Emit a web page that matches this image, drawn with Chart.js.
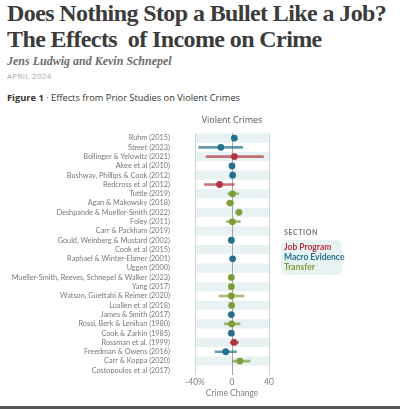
<!DOCTYPE html>
<html>
<head>
<meta charset="utf-8">
<script src="https://cdn.jsdelivr.net/npm/chart.js@4.4.1/dist/chart.umd.min.js"></script>
<style>
  body { margin: 0; background: #fff; width: 400px; height: 409px; overflow: hidden; position: relative; font-family: "Open Sans", sans-serif; }
  .t { position: absolute; left: 7px; white-space: nowrap; }
  #title { top: 0; font: bold 24px/26px "Liberation Serif", serif; color: #3b3b3b; letter-spacing: -0.6px; }
  #authors { top: 54px; font: italic bold 12px/14px "Liberation Serif", serif; color: #6d6d6d; }
  #date { top: 71px; font: 8px/10px "Open Sans", sans-serif; color: #a8a8a8; letter-spacing: 0.3px; }
  #fig { top: 92px; font: 9.3px/12px "Open Sans", sans-serif; color: #333; }
  #fig b { font-weight: 700; }
  #ctitle { position: absolute; left: 182px; width: 100px; top: 114px; text-align: center; font: 9px/12px "Open Sans", sans-serif; color: #555; }
  #wrap { position: absolute; left: 0; top: 112px; width: 400px; height: 293px; }
  #legend { position: absolute; left: 281px; top: 227px; }
  #legend .hd { font: bold 7px/10px Lato, sans-serif; color: #777; letter-spacing: 0.6px; margin-left: 3px; }
  #legend .box { margin-top: 3px; background: #e9f2f2; border-radius: 6px; padding: 2px 2px 3px 3px; width: 56px; }
  #legend .it { font: bold 8.5px/10px Lato, sans-serif; white-space: nowrap; }
  #bar { position: absolute; left: 0; top: 406px; width: 400px; height: 3px; background: #555; }
</style>
</head>
<body>
<div class="t" id="title">Does Nothing Stop a Bullet Like a Job?<br>The Effects&nbsp; of Income on Crime</div>
<div class="t" id="authors">Jens Ludwig and Kevin Schnepel</div>
<div class="t" id="date">APRIL 2024</div>
<div class="t" id="fig"><b>Figure 1</b> · Effects from Prior Studies on Violent Crimes</div>
<div id="wrap"><canvas id="myChart"></canvas></div>
<div id="ctitle">Violent Crimes</div>
<div id="legend">
  <div class="hd">SECTION</div>
  <div class="box">
    <div class="it" style="color:#b3343f">Job Program</div>
    <div class="it" style="color:#25708c">Macro Evidence</div>
    <div class="it" style="color:#7d9c3a">Transfer</div>
  </div>
</div>
<div id="bar"></div>
<script>
// Data (percent change in violent crime)
const studies = [
  "Ruhm (2015)", "Street (2023)", "Bollinger & Yelowitz (2021)", "Akee et al (2010)",
  "Bushway, Phillips & Cook (2012)", "Redcross et al (2012)", "Tuttle (2019)",
  "Agan & Makowsky (2018)", "Deshpande & Mueller-Smith (2022)", "Foley (2011)",
  "Carr & Packham (2019)", "Gould, Weinberg & Mustard (2002)", "Cook et al (2015)",
  "Raphael & Winter-Ebmer (2001)", "Uggen (2000)", "Mueller-Smith, Reeves, Schnepel & Walker (2023)",
  "Yang (2017)", "Watson, Guettabi & Reimer (2020)", "Luallen et al (2018)", "James & Smith (2017)",
  "Rossi, Berk & Lenihan (1980)", "Cook & Zarkin (1985)", "Rossman et al. (1999)",
  "Freedman & Owens (2016)", "Carr & Koppa (2020)", "Costopoulos et al (2017)"
];
const sections = [
  "Macro Evidence", "Macro Evidence", "Job Program", "Macro Evidence",
  "Macro Evidence", "Job Program", "Transfer",
  "Transfer", "Transfer", "Transfer",
  "Transfer", "Macro Evidence", "Job Program",
  "Macro Evidence", "Job Program", "Transfer",
  "Transfer", "Transfer", "Transfer", "Macro Evidence",
  "Transfer", "Macro Evidence", "Job Program",
  "Macro Evidence", "Transfer", "Job Program"
];
const estimates = [2.5, -12, 2.5, 0, 0.7, -13.5, 0.5, -2, 7.5, 0.4, null, -0.7, null, 0.7, null, -0.7, -0.7, -0.7, -0.4, -0.7, -0.4, -0.7, 2.2, -6.8, 8.6, null];
const ciLow   = [null, -36, -28, null, null, -30, -4.5, -6, null, -6, null, null, null, null, null, null, null, -14, null, null, -8.3, null, -2, -18.4, 0, null];
const ciHigh  = [null, 11.5, 34, null, null, 2.5, 7, 2, null, 9, null, null, null, null, null, null, null, 13, null, null, 8.6, null, 7, 5, 19.5, null];
const xTicks = [-40, 0, 40];
const xTickText = ["-40%", "0", "40"];

const sectionNames = ["Job Program", "Macro Evidence", "Transfer"];
const dotColors = ["#b3343f", "#25708c", "#7d9c3a"];
const lineColors = ["rgba(179,52,63,0.7)", "rgba(37,112,140,0.7)", "rgba(125,156,58,0.7)"];

let datasets = [];
sectionNames.forEach((name, k) => {
  datasets.push({
    type: 'bar',
    label: name + ' CI',
    data: studies.map((s, i) => (sections[i] === name && ciLow[i] !== null) ? [ciLow[i], ciHigh[i]] : null),
    backgroundColor: lineColors[k],
    barThickness: 2,
    grouped: false,
    order: 2
  });
  datasets.push({
    type: 'line',
    label: name,
    data: studies.map((s, i) => sections[i] === name ? estimates[i] : null),
    showLine: false,
    pointRadius: 3.4,
    pointBackgroundColor: dotColors[k],
    pointBorderWidth: 0,
    order: 1
  });
});

// light bands behind every other row
const stripes = {
  id: 'stripes',
  beforeDraw(chart) {
    const {ctx, chartArea, scales} = chart;
    const y = scales.y;
    const step = y.getPixelForValue(1) - y.getPixelForValue(0);
    ctx.save();
    ctx.fillStyle = '#e9f2f3';
    studies.forEach((s, i) => {
      if (i % 2 === 0) {
        const c = y.getPixelForValue(i);
        ctx.fillRect(chartArea.left, c - step / 2, chartArea.right - chartArea.left, step);
      }
    });
    ctx.restore();
  }
};

const ctx = document.getElementById('myChart').getContext('2d');
const myChart = new Chart(ctx, {
  type: 'bar',
  data: { labels: studies, datasets: datasets },
  plugins: [stripes],
  options: {
    indexAxis: 'y',
    responsive: true,
    maintainAspectRatio: false,
    animation: false,
    layout: { padding: { left: 6, right: 131, top: 21, bottom: 0 } },
    plugins: {
      legend: { display: false },
      tooltip: { enabled: false }
    },
    scales: {
      x: {
        min: -40, max: 40,
        afterBuildTicks: (s) => { s.ticks = xTicks.map(v => ({ value: v })); },
        afterFit: (s) => { s.height = 30; },
        ticks: {
          padding: 2,
          color: '#808080',
          font: { family: 'Lato', size: 8.5 },
          callback: (v) => xTickText[xTicks.indexOf(v)]
        },
        grid: {
          drawTicks: false,
          color: (c) => c.tick && c.tick.value === 0 ? '#a5a5a5' : '#d4d4d4'
        },
        border: { display: false },
        title: {
          display: true,
          text: 'Crime Change',
          color: '#808080',
          font: { family: 'Lato', size: 8.5 },
          padding: { bottom: 7 }
        }
      },
      y: {
        afterFit: (s) => { s.width = 189; },
        grid: { display: false },
        border: { display: false },
        ticks: {
          padding: 17,
          autoSkip: false,
          color: '#777',
          font: { family: 'Lato', size: 7.3 }
        }
      }
    }
  }
});
</script>
</body>
</html>
